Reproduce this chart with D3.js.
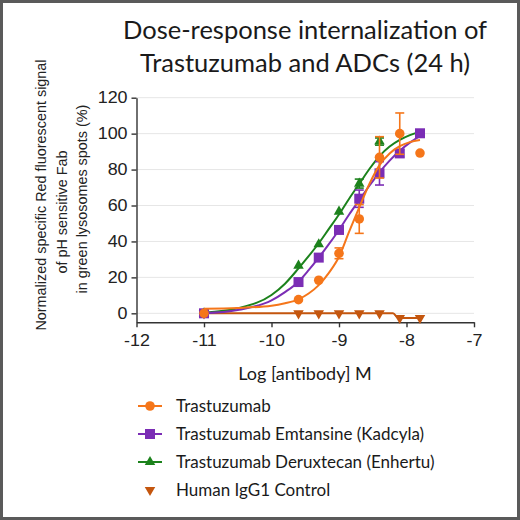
<!DOCTYPE html>
<html>
<head>
<meta charset="utf-8">
<script src="https://cdn.jsdelivr.net/npm/d3@7"></script>
<style>
  body { margin: 0; background: #fff; }
  .tick text { font-family: "Liberation Sans", Arial, sans-serif; font-size: 16px; fill: #222; }
  .title, .legend text, .xtitle { font-family: Lato, "Open Sans", sans-serif; fill: #1a1a1a; }
  .ytitle { font-family: "Liberation Sans", Arial, sans-serif; font-size: 14.4px; fill: #222; }
</style>
</head>
<body>
<div id="chart"></div>
<script>
// log dose of each well (M)
var doses = [-11, -9.6, -9.3, -9.0, -8.7, -8.4, -8.1, -7.8];
var enhertuDoses = [-11, -9.6, -9.3, -9.0, -8.7, -8.4];

// measured values (% of max) and SEM
var trastuzumab = [0, 7.6, 18.4, 33.4, 52.5, 86.8, 100, 89.2];
var trastuzumabErr = [0, 0, 0, 3, 8, 11.5, 11.5, 0];
var kadcyla = [0, 17.4, 31, 46.4, 63.8, 77.9, 89, 100.2];
var kadcylaErr = [0, 0, 0, 0, 4.8, 6.5, 2, 0];
var enhertu = [0, 26.5, 38.4, 56.6, 72.2, 95.6];
var enhertuErr = [0, 0, 0, 0, 2.5, 2];
var igg1 = [0, 0, 0, 0, 0, 0, -2.6, -2.6];

// fitted curves
var fitDoses = [-11, -10.5, -10, -9.8, -9.6, -9.45, -9.3, -9.15, -9.0, -8.85, -8.7, -8.55, -8.4, -8.25, -8.1, -7.95, -7.8];
var trastuzumabFit = [2.6, 3.0, 4.2, 5.6, 7.8, 11, 15.7, 22.5, 31.5, 45.5, 59, 72, 82.5, 89, 93, 95.3, 96.5];
var kadcylaFit = [0, 1.8, 7.2, 11.8, 17.6, 24, 31, 38.5, 46.4, 55, 63, 71, 78.5, 85, 90.5, 95, 98.8];
var enhertuFit = [0.3, 2.8, 10.2, 16.5, 25, 31.8, 39, 47, 55, 63.8, 72, 80.3, 87.5, 92.8, 96.5, 99.2, 101];
var iggLineDoses = [-11, -8.2, -8.12, -7.8];
var iggLine = [0, 0, -2.6, -2.6];

var xTicks = [-12, -11, -10, -9, -8, -7];
var yTicks = [0, 20, 40, 60, 80, 100, 120];

var legendNames = ["Trastuzumab", "Trastuzumab Emtansine (Kadcyla)", "Trastuzumab Deruxtecan (Enhertu)", "Human IgG1 Control"];
var titleLines = ["Dose-response internalization of", "Trastuzumab and ADCs (24 h)"];
var yTitleLines = ["Normalized specific Red fluorescent signal", "of pH sensitive Fab", "in green lysosomes spots (%)"];

var orange = "#f5761a", purple = "#7b2db5", green = "#1c821c", brown = "#c4560e";

var width = 520, height = 520;
var svg = d3.select("#chart").append("svg")
  .attr("width", width)
  .attr("height", height);

svg.append("rect")
  .attr("x", 1.5).attr("y", 1.5)
  .attr("width", width - 3).attr("height", height - 3)
  .attr("fill", "#fff").attr("stroke", "#5a5a5a").attr("stroke-width", 3);

var x = d3.scaleLinear().domain([-12, -7]).range([136.5, 474]);
var y = d3.scaleLinear().domain([-5, 120]).range([322.3, 97.7]);

// gridlines
svg.append("g").selectAll("line").data(yTicks).enter()
  .append("line")
  .attr("x1", x(-12)).attr("x2", x(-7))
  .attr("y1", function (d) { return y(d); })
  .attr("y2", function (d) { return y(d); })
  .attr("stroke", "#e6e6e6").attr("stroke-width", 1);

// axes
var xAxis = svg.append("g")
  .attr("transform", "translate(0," + y(-5) + ")")
  .call(d3.axisBottom(x).tickValues(xTicks).tickSize(5).tickSizeOuter(0).tickPadding(7).tickFormat(d3.format("d")));
var yAxis = svg.append("g")
  .attr("transform", "translate(" + x(-12) + ",0)")
  .call(d3.axisLeft(y).tickValues(yTicks).tickSize(5).tickSizeOuter(0).tickPadding(3));
[xAxis, yAxis].forEach(function (a) {
  a.select(".domain").attr("stroke", "#333").attr("stroke-width", 1.4);
  a.selectAll(".tick line").attr("stroke", "#333").attr("stroke-width", 1.4);
  a.selectAll(".tick text").attr("transform", "scale(1.12,1)");
});
xAxis.selectAll(".tick text").text(function (d) { return "-" + Math.abs(d); });

// titles
svg.append("g").selectAll("text").data(titleLines).enter()
  .append("text")
  .attr("class", "title")
  .attr("x", 305).attr("y", function (d, i) { return 39 + i * 33; })
  .attr("text-anchor", "middle")
  .style("font-size", "25.5px")
  .text(function (d) { return d; });

svg.append("text")
  .attr("class", "xtitle")
  .attr("x", 305).attr("y", 380)
  .attr("text-anchor", "middle")
  .style("font-size", "18px")
  .text("Log [antibody] M");

var yTitleCenters = [195, 212, 199];
svg.append("g").selectAll("text").data(yTitleLines).enter()
  .append("text")
  .attr("class", "ytitle")
  .attr("text-anchor", "middle")
  .attr("transform", function (d, i) { return "translate(" + (46 + i * 20.5) + "," + yTitleCenters[i] + ") rotate(-90)"; })
  .text(function (d) { return d; });

// lines
var line = d3.line()
  .x(function (d) { return x(d[0]); })
  .y(function (d) { return y(d[1]); })
  .curve(d3.curveMonotoneX);

function pairs(xs, ys) { return xs.map(function (v, i) { return [v, ys[i]]; }); }

var symCircle = d3.symbol().type(d3.symbolCircle).size(72);
var symSquare = d3.symbol().type(d3.symbolSquare).size(100);
var symTriangle = d3.symbol().type(d3.symbolTriangle).size(48);
var symDown = d3.symbol().type(d3.symbolTriangle).size(48);

var series = [
  { xs: doses, ys: igg1, err: null, fitX: iggLineDoses, fitY: iggLine, color: brown, sym: symDown, rot: 180 },
  { xs: enhertuDoses, ys: enhertu, err: enhertuErr, fitX: fitDoses, fitY: enhertuFit, color: green, sym: symTriangle, rot: 0 },
  { xs: doses, ys: kadcyla, err: kadcylaErr, fitX: fitDoses, fitY: kadcylaFit, color: purple, sym: symSquare, rot: 0 },
  { xs: doses, ys: trastuzumab, err: trastuzumabErr, fitX: fitDoses, fitY: trastuzumabFit, color: orange, sym: symCircle, rot: 0 }
];

series.forEach(function (s) {
  var g = svg.append("g");
  g.append("path")
    .datum(pairs(s.fitX, s.fitY))
    .attr("d", line)
    .attr("fill", "none")
    .attr("stroke", s.color)
    .attr("stroke-width", 2);

  if (s.err) {
    var pts = pairs(s.xs, s.ys).map(function (p, i) { return [p[0], p[1], s.err[i]]; })
      .filter(function (p) { return p[2] > 0; });
    var eb = g.selectAll(".eb").data(pts).enter().append("g").attr("class", "eb");
    eb.append("line")
      .attr("x1", function (d) { return x(d[0]); }).attr("x2", function (d) { return x(d[0]); })
      .attr("y1", function (d) { return y(d[1] - d[2]); }).attr("y2", function (d) { return y(d[1] + d[2]); });
    eb.append("line")
      .attr("x1", function (d) { return x(d[0]) - 4.5; }).attr("x2", function (d) { return x(d[0]) + 4.5; })
      .attr("y1", function (d) { return y(d[1] + d[2]); }).attr("y2", function (d) { return y(d[1] + d[2]); });
    eb.append("line")
      .attr("x1", function (d) { return x(d[0]) - 4.5; }).attr("x2", function (d) { return x(d[0]) + 4.5; })
      .attr("y1", function (d) { return y(d[1] - d[2]); }).attr("y2", function (d) { return y(d[1] - d[2]); });
    eb.selectAll("line").attr("stroke", s.color).attr("stroke-width", 1.6);
  }

  g.selectAll(".pt").data(pairs(s.xs, s.ys)).enter()
    .append("path")
    .attr("class", "pt")
    .attr("d", s.sym)
    .attr("transform", function (d) { return "translate(" + x(d[0]) + "," + y(d[1]) + ") rotate(" + s.rot + ")"; })
    .attr("fill", s.color);
});

// legend
var legendItems = [
  { color: orange, sym: symCircle, rot: 0, line: true },
  { color: purple, sym: symSquare, rot: 0, line: true },
  { color: green, sym: symTriangle, rot: 0, line: true },
  { color: brown, sym: symDown, rot: 180, line: false }
];
var legend = svg.append("g").attr("class", "legend");
var rows = legend.selectAll("g").data(legendItems).enter()
  .append("g")
  .attr("transform", function (d, i) { return "translate(150," + (406 + i * 28) + ")"; });
rows.filter(function (d) { return d.line; }).append("line")
  .attr("x1", -12).attr("x2", 12)
  .attr("stroke", function (d) { return d.color; })
  .attr("stroke-width", 2);
rows.append("path")
  .attr("d", function (d) { return d.sym(); })
  .attr("transform", function (d) { return "rotate(" + d.rot + ")"; })
  .attr("fill", function (d) { return d.color; });
rows.append("text")
  .attr("x", 26).attr("y", 6)
  .style("font-size", "17px")
  .text(function (d, i) { return legendNames[i]; });
</script>
</body>
</html>
